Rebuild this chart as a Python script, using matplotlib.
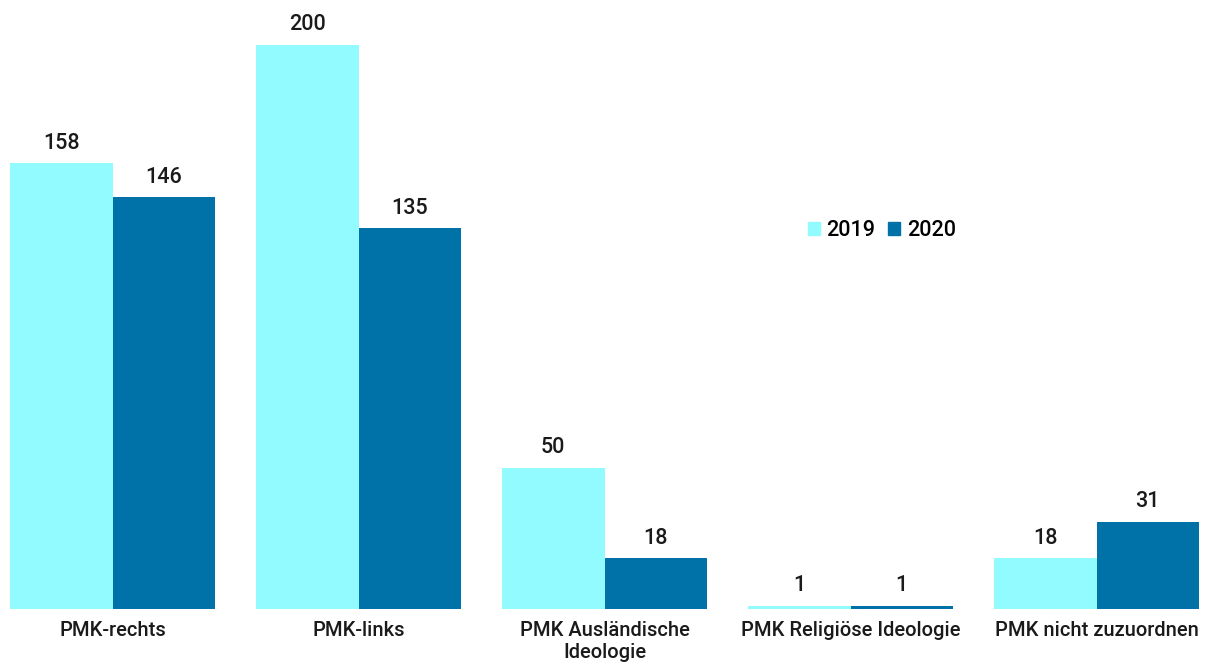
import numpy as np
import matplotlib.pyplot as plt
from matplotlib.patches import Patch

categories = ["PMK-rechts", "PMK-links", "PMK Ausländische\nIdeologie",
              "PMK Religiöse Ideologie", "PMK nicht zuzuordnen"]
years = ["2019", "2020"]
values_2019 = [158, 200, 50, 1, 18]
values_2020 = [146, 135, 18, 1, 31]

light = "#91FBFF"
dark = "#0072A7"

plt.rcParams['font.family'] = ['Roboto', 'DejaVu Sans']
plt.rcParams['font.weight'] = 'medium'

fig = plt.figure(figsize=(12.14, 6.64), dpi=100)
ax = fig.add_axes([0, 55 / 664, 1, 609 / 664])

x = np.arange(len(categories))
w = 0.4167

b1 = ax.bar(x - w / 2, values_2019, w, color=light)
b2 = ax.bar(x + w / 2, values_2020, w, color=dark)

for bars, vals in ((b1, values_2019), (b2, values_2020)):
    for rect, v in zip(bars, vals):
        ax.annotate(str(v), (rect.get_x() + rect.get_width() / 2, v),
                    xytext=(0, 7), textcoords="offset points",
                    ha="center", va="bottom", fontsize=15.5, color="#1a1a1a")

ax.set_xlim(-112.5 / 246, (1214 - 112.5) / 246)
ax.set_ylim(0, 609 / 2.82)
ax.set_xticks(x)
ax.set_xticklabels(categories, fontsize=14.5, color="#1a1a1a", linespacing=1.2)
ax.tick_params(axis="x", length=0, pad=9)
ax.set_yticks([])
for s in ax.spines.values():
    s.set_visible(False)

handles = [Patch(color=light), Patch(color=dark)]
fig.legend(handles, years, loc="center", bbox_to_anchor=(882 / 1214, 1 - 231 / 664),
           ncol=2, frameon=False, fontsize=15.5, handlelength=0.55, handleheight=0.55,
           handletextpad=0.3, columnspacing=0.6)

fig.savefig("out.png", dpi=100)
